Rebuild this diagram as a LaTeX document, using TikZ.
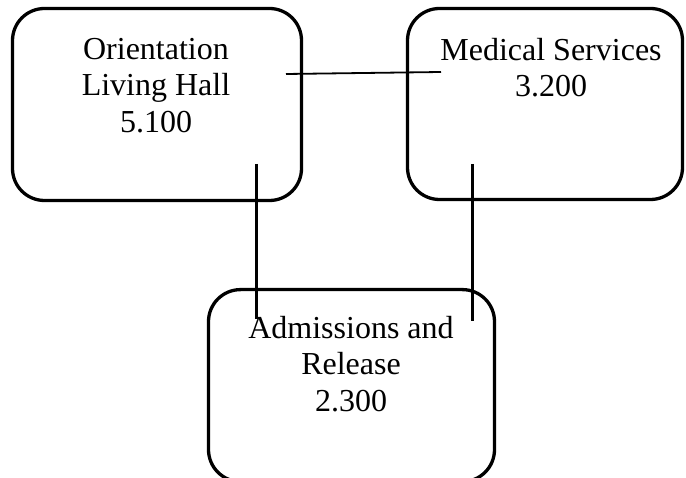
\documentclass[tikz,border=0pt]{standalone}
\usepackage{fontspec}
\setmainfont{Liberation Serif}
\begin{document}
\begin{tikzpicture}[x=1pt,y=-1pt,
  roombox/.style={draw=black, line width=3.3pt, rounded corners=32pt, rectangle, inner sep=0pt},
  roomlabel/.style={align=center, inner sep=0pt, anchor=north, font=\fontsize{32}{36.5}\selectfont},
  thinlink/.style={draw=black, line width=1.8pt},
  thicklink/.style={draw=black, line width=3pt}]
\useasboundingbox (0,0) rectangle (686,478);
% boxes
\node[roombox, minimum width=289pt, minimum height=192pt] (ori) at (157,104.5) {};
\node[roombox, minimum width=275pt, minimum height=191pt] (med) at (545,104) {};
\node[roombox, minimum width=286pt, minimum height=192pt] (adm) at (351.5,385.6) {};
% labels
\node[roomlabel] (orit) at (156,38) {Orientation\\Living Hall\\5.100};
\node[roomlabel] (medt) at (551,38) {Medical Services\\3.200};
\node[roomlabel] (admt) at (351,316) {Admissions and\\Release\\2.300};
% connector ends
\coordinate (h1) at (286,74);
\coordinate (h2) at (441,72);
\coordinate (v1a) at (256,164);
\coordinate (v1b) at (256,319);
\coordinate (v2a) at (472,164);
\coordinate (v2b) at (472,321);
\draw[thinlink] (h1) -- (h2);
\draw[thicklink] (v1a) -- (v1b);
\draw[thicklink] (v2a) -- (v2b);
\end{tikzpicture}
\end{document}
